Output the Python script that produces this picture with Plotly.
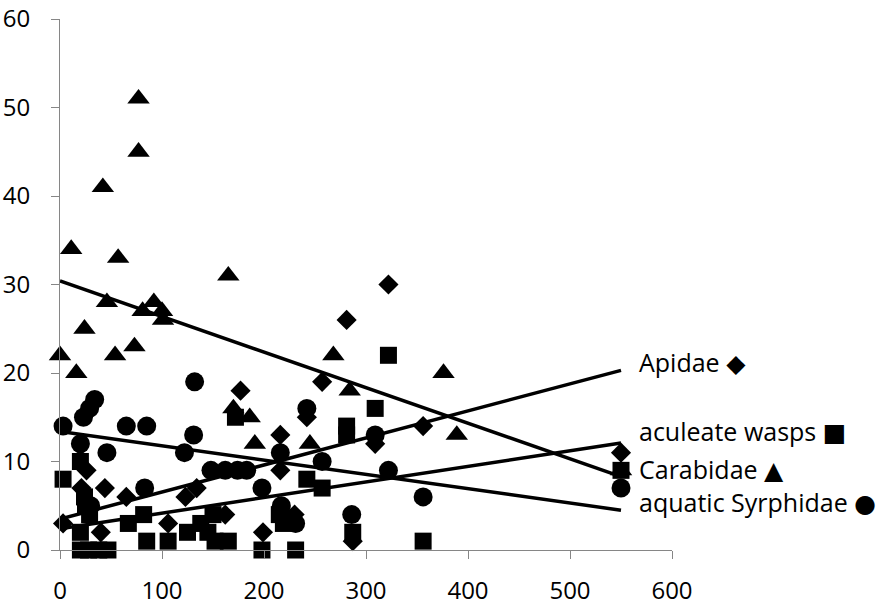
import plotly.graph_objects as go

# ---- data ----
apidae_x = [3, 21, 26, 28, 40, 44, 65, 106, 123, 134, 162, 177, 199, 216, 216, 230, 242, 257, 281, 287, 309, 322, 356, 550]
apidae_y = [3, 7, 9, 5, 2, 7, 6, 3, 6, 7, 4, 18, 2, 13, 9, 4, 15, 19, 26, 1, 12, 30, 14, 11]

wasps_x = [3, 20, 24, 20, 28, 38, 47, 20, 25, 29, 67, 82, 85, 106, 125, 138, 145, 150, 152, 165, 172, 198, 215, 219, 231, 242, 257, 281, 281, 287, 309, 322, 356, 550]
wasps_y = [8, 10, 6, 0, 0, 0, 0, 2, 5, 4, 3, 4, 1, 1, 2, 3, 2, 4, 1, 1, 15, 0, 4, 3, 0, 8, 7, 14, 13, 2, 16, 22, 1, 9]

carab_x = [0, 11, 16, 24, 42, 46, 54, 57, 73, 77, 77, 81, 92, 100, 101, 165, 170, 186, 191, 245, 268, 284, 376, 389, 550]
carab_y = [22, 34, 20, 25, 41, 28, 22, 33, 23, 51, 45, 27, 28, 27, 26, 31, 16, 15, 12, 12, 22, 18, 20, 13, 9]

syrph_x = [3, 20, 23, 29, 30, 34, 46, 65, 83, 85, 122, 131, 132, 148, 162, 174, 183, 198, 216, 217, 231, 242, 257, 286, 309, 322, 356, 550]
syrph_y = [14, 12, 15, 16, 5, 17, 11, 14, 7, 14, 11, 13, 19, 9, 9, 9, 9, 7, 11, 5, 3, 16, 10, 4, 13, 9, 6, 7]

# linear trend lines (end values)
trend_x = [0, 550]
trend_apidae = [3.5, 20.3]
trend_wasps = [2.4, 12.1]
trend_carab = [30.4, 8.3]
trend_syrph = [13.4, 4.5]

label_names = ["Apidae", "aculeate wasps", "Carabidae", "aquatic Syrphidae"]
label_marks = ["\u25C6", "\u25A0", "\u25B2", "\u25CF"]
label_y = [21.3, 13.4, 9.1, 5.45]
label_x = 565.5

x_ticks = [0, 100, 200, 300, 400, 500, 600]
y_ticks = [0, 10, 20, 30, 40, 50, 60]

FONT = "Open Sans"

fig = go.Figure()

for ty in [trend_apidae, trend_wasps, trend_carab, trend_syrph]:
    fig.add_trace(go.Scatter(x=trend_x, y=ty, mode="lines",
                             line=dict(color="black", width=3.5),
                             hoverinfo="skip", showlegend=False))

series = [
    (apidae_x, apidae_y, "diamond", 15.5),
    (wasps_x, wasps_y, "square", 17),
    (carab_x, carab_y, "triangle-up", 19.5),
    (syrph_x, syrph_y, "circle", 19),
]
for xs, ys, sym, sz in series:
    fig.add_trace(go.Scatter(x=xs, y=ys, mode="markers",
                             marker=dict(symbol=sym, size=sz, color="black",
                                         line=dict(width=0)),
                             cliponaxis=False, showlegend=False))

for name, mark, ly in zip(label_names, label_marks, label_y):
    txt = (name + " <span style='font-family:DejaVu Sans;font-size:25px'>" + mark + "</span>")
    fig.add_annotation(x=label_x, y=ly, xref="x", yref="y", text=txt,
                       showarrow=False, xanchor="left", yanchor="middle",
                       font=dict(family=FONT, size=25, color="black"))

axis_common = dict(showline=True, linecolor="#868686", linewidth=1,
                   ticks="outside", ticklen=8, tickcolor="#868686", tickwidth=1,
                   showgrid=False, zeroline=False, automargin=False,
                   ticklabeloverflow="allow",
                   tickfont=dict(family=FONT, size=24, color="black"))

fig.update_xaxes(range=[0, 600], tickvals=x_ticks, ticklabelstandoff=11, **axis_common)
fig.update_yaxes(range=[0, 60], tickvals=y_ticks, ticklabelstandoff=16, **axis_common)

fig.update_layout(width=888, height=605,
                  margin=dict(l=60, r=216, t=19, b=55),
                  plot_bgcolor="white", paper_bgcolor="white",
                  showlegend=False)

# remove the default 8px page margin so the figure fills the window exactly
fig.write_html("out.html",
               config={"displayModeBar": False},
               post_script="document.body.style.margin='0';document.body.style.overflow='hidden';")
